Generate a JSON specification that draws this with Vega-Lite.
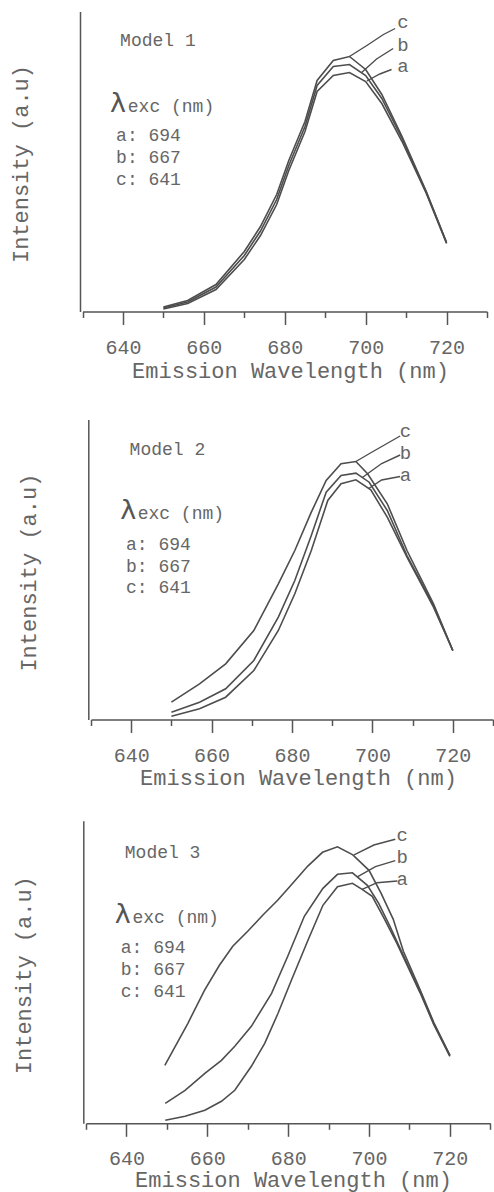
{
  "$schema": "https://vega.github.io/schema/vega-lite/v6.json",
  "background": "white",
  "padding": {"left": 9, "top": 11.5, "right": 0, "bottom": 0},
  "spacing": 32.6,
  "config": {
    "view": {"stroke": null},
    "axis": {"domainColor": "#555", "domainWidth": 1.5, "tickColor": "#555", "tickWidth": 1.5, "labelFont": "Liberation Mono", "labelFontSize": 20, "labelColor": "#666", "titleFont": "Liberation Mono", "titleFontSize": 22, "titleColor": "#666", "titleFontWeight": "normal", "grid": false, "labelFlush": false, "labelOverlap": false, "labelBound": false}
  },
  "datasets": {
    "curves": [
      {"m":1,"s":"a","wl":650,"v":2.5},{"m":1,"s":"a","wl":656,"v":8},{"m":1,"s":"a","wl":663,"v":22},{"m":1,"s":"a","wl":670,"v":52},{"m":1,"s":"a","wl":674,"v":76},{"m":1,"s":"a","wl":678,"v":107},{"m":1,"s":"a","wl":681,"v":141},{"m":1,"s":"a","wl":685,"v":180},{"m":1,"s":"a","wl":688,"v":220},{"m":1,"s":"a","wl":692,"v":236},{"m":1,"s":"a","wl":696,"v":239},{"m":1,"s":"a","wl":700,"v":230},{"m":1,"s":"a","wl":704,"v":208},{"m":1,"s":"a","wl":709,"v":170},{"m":1,"s":"a","wl":715,"v":118},{"m":1,"s":"a","wl":720,"v":68},
      {"m":1,"s":"b","wl":650,"v":3.5},{"m":1,"s":"b","wl":656,"v":9.5},{"m":1,"s":"b","wl":663,"v":24.5},{"m":1,"s":"b","wl":670,"v":56},{"m":1,"s":"b","wl":674,"v":80.5},{"m":1,"s":"b","wl":678,"v":112},{"m":1,"s":"b","wl":681,"v":146},{"m":1,"s":"b","wl":685,"v":185},{"m":1,"s":"b","wl":688,"v":226},{"m":1,"s":"b","wl":692,"v":245},{"m":1,"s":"b","wl":696,"v":247},{"m":1,"s":"b","wl":700,"v":236},{"m":1,"s":"b","wl":704,"v":213},{"m":1,"s":"b","wl":709,"v":173},{"m":1,"s":"b","wl":715,"v":119},{"m":1,"s":"b","wl":720,"v":69},
      {"m":1,"s":"c","wl":650,"v":4.5},{"m":1,"s":"c","wl":656,"v":11},{"m":1,"s":"c","wl":663,"v":27},{"m":1,"s":"c","wl":670,"v":60},{"m":1,"s":"c","wl":674,"v":85},{"m":1,"s":"c","wl":678,"v":117},{"m":1,"s":"c","wl":681,"v":151},{"m":1,"s":"c","wl":685,"v":190},{"m":1,"s":"c","wl":688,"v":231},{"m":1,"s":"c","wl":692,"v":251},{"m":1,"s":"c","wl":696,"v":255},{"m":1,"s":"c","wl":700,"v":242},{"m":1,"s":"c","wl":704,"v":217},{"m":1,"s":"c","wl":709,"v":175},{"m":1,"s":"c","wl":715,"v":120},{"m":1,"s":"c","wl":720,"v":69},
      {"m":2,"s":"a","wl":650,"v":3.3},{"m":2,"s":"a","wl":657,"v":10.7},{"m":2,"s":"a","wl":663.5,"v":22.3},{"m":2,"s":"a","wl":670.5,"v":49},{"m":2,"s":"a","wl":676.6,"v":89},{"m":2,"s":"a","wl":680.7,"v":125.7},{"m":2,"s":"a","wl":684.8,"v":169},{"m":2,"s":"a","wl":688.9,"v":219},{"m":2,"s":"a","wl":692.2,"v":235.7},{"m":2,"s":"a","wl":695.9,"v":239.7},{"m":2,"s":"a","wl":699.6,"v":229.7},{"m":2,"s":"a","wl":703.7,"v":202.3},{"m":2,"s":"a","wl":708.6,"v":162.3},{"m":2,"s":"a","wl":715.2,"v":112.3},{"m":2,"s":"a","wl":720,"v":69},
      {"m":2,"s":"b","wl":650,"v":7.3},{"m":2,"s":"b","wl":657,"v":17.3},{"m":2,"s":"b","wl":663.5,"v":30.7},{"m":2,"s":"b","wl":670.5,"v":59},{"m":2,"s":"b","wl":676.6,"v":102.3},{"m":2,"s":"b","wl":680.7,"v":139},{"m":2,"s":"b","wl":684.8,"v":184},{"m":2,"s":"b","wl":688.5,"v":227.3},{"m":2,"s":"b","wl":692.2,"v":244},{"m":2,"s":"b","wl":695.9,"v":246.3},{"m":2,"s":"b","wl":699.2,"v":237.3},{"m":2,"s":"b","wl":703.7,"v":209},{"m":2,"s":"b","wl":708.6,"v":164},{"m":2,"s":"b","wl":715.2,"v":114},{"m":2,"s":"b","wl":720,"v":69},
      {"m":2,"s":"c","wl":650,"v":17.3},{"m":2,"s":"c","wl":657,"v":35.7},{"m":2,"s":"c","wl":663.5,"v":55.7},{"m":2,"s":"c","wl":670.5,"v":89},{"m":2,"s":"c","wl":676.6,"v":135.7},{"m":2,"s":"c","wl":680.7,"v":169},{"m":2,"s":"c","wl":684.8,"v":207.3},{"m":2,"s":"c","wl":688.5,"v":239},{"m":2,"s":"c","wl":692.2,"v":255.7},{"m":2,"s":"c","wl":695.9,"v":258},{"m":2,"s":"c","wl":698.8,"v":245.7},{"m":2,"s":"c","wl":703.7,"v":215.7},{"m":2,"s":"c","wl":708.6,"v":169},{"m":2,"s":"c","wl":715.2,"v":115.7},{"m":2,"s":"c","wl":720,"v":69},
      {"m":3,"s":"a","wl":649.6,"v":3},{"m":3,"s":"a","wl":654.5,"v":7},{"m":3,"s":"a","wl":659.4,"v":13},{"m":3,"s":"a","wl":663.5,"v":22},{"m":3,"s":"a","wl":666.8,"v":33},{"m":3,"s":"a","wl":670.9,"v":57},{"m":3,"s":"a","wl":674.2,"v":80},{"m":3,"s":"a","wl":677.5,"v":110},{"m":3,"s":"a","wl":680.8,"v":143},{"m":3,"s":"a","wl":684.9,"v":183},{"m":3,"s":"a","wl":688.6,"v":218},{"m":3,"s":"a","wl":692.2,"v":236.5},{"m":3,"s":"a","wl":695.9,"v":240},{"m":3,"s":"a","wl":698.3,"v":234},{"m":3,"s":"a","wl":700.8,"v":227},{"m":3,"s":"a","wl":703.6,"v":206},{"m":3,"s":"a","wl":706.9,"v":180},{"m":3,"s":"a","wl":712.7,"v":130},{"m":3,"s":"a","wl":716,"v":99},{"m":3,"s":"a","wl":720,"v":67},
      {"m":3,"s":"b","wl":649.6,"v":20},{"m":3,"s":"b","wl":654.5,"v":33},{"m":3,"s":"b","wl":659.4,"v":50},{"m":3,"s":"b","wl":663.5,"v":63},{"m":3,"s":"b","wl":666.8,"v":77},{"m":3,"s":"b","wl":670.9,"v":97},{"m":3,"s":"b","wl":675.9,"v":130},{"m":3,"s":"b","wl":679.9,"v":167},{"m":3,"s":"b","wl":684,"v":207},{"m":3,"s":"b","wl":688.6,"v":235},{"m":3,"s":"b","wl":692.2,"v":249},{"m":3,"s":"b","wl":695.9,"v":250.5},{"m":3,"s":"b","wl":699.6,"v":238},{"m":3,"s":"b","wl":702.4,"v":220},{"m":3,"s":"b","wl":705.3,"v":196},{"m":3,"s":"b","wl":707.8,"v":174},{"m":3,"s":"b","wl":712.7,"v":131},{"m":3,"s":"b","wl":716,"v":100},{"m":3,"s":"b","wl":720,"v":68},
      {"m":3,"s":"c","wl":649.5,"v":58},{"m":3,"s":"c","wl":655.2,"v":100},{"m":3,"s":"c","wl":659.3,"v":133},{"m":3,"s":"c","wl":663,"v":158},{"m":3,"s":"c","wl":666.3,"v":177},{"m":3,"s":"c","wl":670,"v":192},{"m":3,"s":"c","wl":673.7,"v":208},{"m":3,"s":"c","wl":677.4,"v":223},{"m":3,"s":"c","wl":680.7,"v":238},{"m":3,"s":"c","wl":684.8,"v":257},{"m":3,"s":"c","wl":688.5,"v":271},{"m":3,"s":"c","wl":692.2,"v":276.5},{"m":3,"s":"c","wl":696,"v":268.5},{"m":3,"s":"c","wl":700,"v":253},{"m":3,"s":"c","wl":703,"v":230},{"m":3,"s":"c","wl":706,"v":204},{"m":3,"s":"c","wl":708.5,"v":172},{"m":3,"s":"c","wl":712.7,"v":133},{"m":3,"s":"c","wl":716,"v":101},{"m":3,"s":"c","wl":720,"v":68}
    ],
    "leaders": [
      {"m":1,"s":"c","wl":696,"v":255},{"m":1,"s":"c","wl":700.3,"v":266},{"m":1,"s":"c","wl":704.4,"v":277},{"m":1,"s":"c","wl":707.3,"v":283},
      {"m":1,"s":"b","wl":699,"v":239},{"m":1,"s":"b","wl":702.7,"v":252.5},{"m":1,"s":"b","wl":706.8,"v":263},
      {"m":1,"s":"a","wl":700.3,"v":230.5},{"m":1,"s":"a","wl":703.5,"v":237.5},{"m":1,"s":"a","wl":706.4,"v":242},
      {"m":2,"s":"c","wl":695.9,"v":258},{"m":2,"s":"c","wl":699.5,"v":266.5},{"m":2,"s":"c","wl":703.2,"v":275},{"m":2,"s":"c","wl":706.9,"v":283.5},
      {"m":2,"s":"b","wl":697.5,"v":242},{"m":2,"s":"b","wl":702.3,"v":256},{"m":2,"s":"b","wl":706.9,"v":264.5},
      {"m":2,"s":"a","wl":699.1,"v":231},{"m":2,"s":"a","wl":702.3,"v":239.5},{"m":2,"s":"a","wl":706.9,"v":243},
      {"m":3,"s":"c","wl":696.3,"v":268.5},{"m":3,"s":"c","wl":701.2,"v":278.3},{"m":3,"s":"c","wl":706.5,"v":284},
      {"m":3,"s":"b","wl":697.1,"v":246.5},{"m":3,"s":"b","wl":701.6,"v":256.6},{"m":3,"s":"b","wl":706.5,"v":262.6},
      {"m":3,"s":"a","wl":698.3,"v":234},{"m":3,"s":"a","wl":702,"v":240.6},{"m":3,"s":"a","wl":707,"v":242.3}
    ],
    "tags": [
      {"m":1,"s":"c","wl":707.8,"v":283.2},{"m":1,"s":"b","wl":707.8,"v":260.8},{"m":1,"s":"a","wl":707.8,"v":239.2},
      {"m":2,"s":"c","wl":706.8,"v":282.3},{"m":2,"s":"b","wl":706.8,"v":260.7},{"m":2,"s":"a","wl":706.8,"v":239},
      {"m":3,"s":"c","wl":706.8,"v":282.6},{"m":3,"s":"b","wl":706.8,"v":260.6},{"m":3,"s":"a","wl":706.8,"v":238.3}
    ],
    "notes": [
      {"m":1,"t":"Model 1","wl":639.3,"v":265.8},{"m":1,"t":"exc (nm)","wl":641.2,"v":199.8},{"m":1,"t":"a: 694","wl":638.3,"v":170.2},{"m":1,"t":"b: 667","wl":638.3,"v":148.5},{"m":1,"t":"c: 641","wl":638.3,"v":126.8},
      {"m":2,"t":"Model 2","wl":639.6,"v":264.7},{"m":2,"t":"exc (nm)","wl":641.6,"v":200.7},{"m":2,"t":"a: 694","wl":638.7,"v":169.7},{"m":2,"t":"b: 667","wl":638.7,"v":148},{"m":2,"t":"c: 641","wl":638.7,"v":126.7},
      {"m":3,"t":"Model 3","wl":639.6,"v":265.6},{"m":3,"t":"exc (nm)","wl":641.5,"v":200.6},{"m":3,"t":"a: 694","wl":638.6,"v":170},{"m":3,"t":"b: 667","wl":638.6,"v":148.3},{"m":3,"t":"c: 641","wl":638.6,"v":126.6}
    ],
    "lambda": [
      {"m":1,"t":"λ","wl":636.8,"v":199.8},
      {"m":2,"t":"λ","wl":637.3,"v":200.7},
      {"m":3,"t":"λ","wl":637.1,"v":200.6}
    ]
  },
  "vconcat": [
    {
      "width": 413, "height": 300,
      "resolve": {"axis": {"x": "independent"}},
      "layer": [
        {
          "data": {"name": "curves"},
          "transform": [{"filter": "datum.m === 1"}],
          "mark": {"type": "line", "stroke": "#4d4d4d", "strokeWidth": 1.6},
          "encoding": {
            "x": {"field": "wl", "type": "quantitative", "scale": {"domain": [630, 730], "range": [2.5, 407], "nice": false, "zero": false},
              "axis": {"orient": "bottom", "values": [640, 660, 680, 700, 720], "tickSize": 13, "labelPadding": 28.5, "labelBaseline": "alphabetic", "title": "Emission Wavelength (nm)", "titleX": 210, "titleY": 65.5, "titleBaseline": "alphabetic", "titleAlign": "center"}},
            "y": {"field": "v", "type": "quantitative", "scale": {"domain": [0, 300], "range": [300, 0], "nice": false, "zero": false},
              "axis": {"orient": "left", "title": "Intensity (a.u)", "ticks": false, "labels": false, "offset": 0, "titleX": -60, "titleY": 152, "titleAngle": -90, "titleBaseline": "middle", "titleAlign": "center"}},
            "detail": {"field": "s", "type": "nominal"}
          }
        },
        {
          "data": {"name": "leaders"},
          "transform": [{"filter": "datum.m === 1"}],
          "mark": {"type": "line", "stroke": "#4d4d4d", "strokeWidth": 1.4},
          "encoding": {
            "x": {"field": "wl", "type": "quantitative", "axis": {"orient": "bottom", "values": [630, 650, 670, 690, 710, 730], "tickSize": 6, "labels": false, "domain": false, "title": null}},
            "y": {"field": "v", "type": "quantitative"},
            "detail": {"field": "s", "type": "nominal"}
          }
        },
        {
          "data": {"name": "tags"},
          "transform": [{"filter": "datum.m === 1"}],
          "mark": {"type": "text", "align": "left", "baseline": "alphabetic", "font": "Liberation Mono", "fontSize": 19, "fill": "#666"},
          "encoding": {
            "x": {"field": "wl", "type": "quantitative", "axis": null},
            "y": {"field": "v", "type": "quantitative"},
            "text": {"field": "s"}
          }
        },
        {
          "data": {"name": "notes"},
          "transform": [{"filter": "datum.m === 1"}],
          "mark": {"type": "text", "align": "left", "baseline": "alphabetic", "font": "Liberation Mono", "fontSize": 18, "fill": "#666"},
          "encoding": {
            "x": {"field": "wl", "type": "quantitative", "axis": null},
            "y": {"field": "v", "type": "quantitative"},
            "text": {"field": "t"}
          }
        },
        {
          "data": {"name": "lambda"},
          "transform": [{"filter": "datum.m === 1"}],
          "mark": {"type": "text", "align": "left", "baseline": "alphabetic", "font": "DejaVu Sans", "fontSize": 27, "fill": "#555"},
          "encoding": {
            "x": {"field": "wl", "type": "quantitative", "axis": null},
            "y": {"field": "v", "type": "quantitative"},
            "text": {"field": "t"}
          }
        }
      ]
    },
    {
      "width": 413, "height": 305.4,
      "resolve": {"axis": {"x": "independent"}},
      "layer": [
        {
          "data": {"name": "curves"},
          "transform": [{"filter": "datum.m === 2"}],
          "mark": {"type": "line", "stroke": "#4d4d4d", "strokeWidth": 1.6},
          "encoding": {
            "x": {"field": "wl", "type": "quantitative", "scale": {"domain": [630, 730], "range": [11, 413], "nice": false, "zero": false},
              "axis": {"orient": "bottom", "values": [640, 660, 680, 700, 720], "tickSize": 13, "labelPadding": 28.5, "labelBaseline": "alphabetic", "title": "Emission Wavelength (nm)", "titleX": 218, "titleY": 64.5, "titleBaseline": "alphabetic", "titleAlign": "center"}},
            "y": {"field": "v", "type": "quantitative", "scale": {"domain": [0, 300], "range": [305.4, 5.4], "nice": false, "zero": false},
              "axis": {"orient": "left", "title": "Intensity (a.u)", "ticks": false, "labels": false, "offset": -8.3, "titleX": -60, "titleY": 158, "titleAngle": -90, "titleBaseline": "middle", "titleAlign": "center"}},
            "detail": {"field": "s", "type": "nominal"}
          }
        },
        {
          "data": {"name": "leaders"},
          "transform": [{"filter": "datum.m === 2"}],
          "mark": {"type": "line", "stroke": "#4d4d4d", "strokeWidth": 1.4},
          "encoding": {
            "x": {"field": "wl", "type": "quantitative", "axis": {"orient": "bottom", "values": [630, 650, 670, 690, 710, 730], "tickSize": 6, "labels": false, "domain": false, "title": null}},
            "y": {"field": "v", "type": "quantitative"},
            "detail": {"field": "s", "type": "nominal"}
          }
        },
        {
          "data": {"name": "tags"},
          "transform": [{"filter": "datum.m === 2"}],
          "mark": {"type": "text", "align": "left", "baseline": "alphabetic", "font": "Liberation Mono", "fontSize": 19, "fill": "#666"},
          "encoding": {
            "x": {"field": "wl", "type": "quantitative", "axis": null},
            "y": {"field": "v", "type": "quantitative"},
            "text": {"field": "s"}
          }
        },
        {
          "data": {"name": "notes"},
          "transform": [{"filter": "datum.m === 2"}],
          "mark": {"type": "text", "align": "left", "baseline": "alphabetic", "font": "Liberation Mono", "fontSize": 18, "fill": "#666"},
          "encoding": {
            "x": {"field": "wl", "type": "quantitative", "axis": null},
            "y": {"field": "v", "type": "quantitative"},
            "text": {"field": "t"}
          }
        },
        {
          "data": {"name": "lambda"},
          "transform": [{"filter": "datum.m === 2"}],
          "mark": {"type": "text", "align": "left", "baseline": "alphabetic", "font": "DejaVu Sans", "fontSize": 27, "fill": "#555"},
          "encoding": {
            "x": {"field": "wl", "type": "quantitative", "axis": null},
            "y": {"field": "v", "type": "quantitative"},
            "text": {"field": "t"}
          }
        }
      ]
    },
    {
      "width": 413, "height": 302.6,
      "resolve": {"axis": {"x": "independent"}},
      "layer": [
        {
          "data": {"name": "curves"},
          "transform": [{"filter": "datum.m === 3"}],
          "mark": {"type": "line", "stroke": "#4d4d4d", "strokeWidth": 1.6},
          "encoding": {
            "x": {"field": "wl", "type": "quantitative", "scale": {"domain": [630, 730], "range": [6, 410.3], "nice": false, "zero": false},
              "axis": {"orient": "bottom", "values": [640, 660, 680, 700, 720], "tickSize": 13, "labelPadding": 28.5, "labelBaseline": "alphabetic", "title": "Emission Wavelength (nm)", "titleX": 213, "titleY": 63.5, "titleBaseline": "alphabetic", "titleAlign": "center"}},
            "y": {"field": "v", "type": "quantitative", "scale": {"domain": [0, 302.6], "range": [302.6, 0], "nice": false, "zero": false},
              "axis": {"orient": "left", "title": "Intensity (a.u)", "ticks": false, "labels": false, "offset": -3.3, "titleX": -60, "titleY": 154, "titleAngle": -90, "titleBaseline": "middle", "titleAlign": "center"}},
            "detail": {"field": "s", "type": "nominal"}
          }
        },
        {
          "data": {"name": "leaders"},
          "transform": [{"filter": "datum.m === 3"}],
          "mark": {"type": "line", "stroke": "#4d4d4d", "strokeWidth": 1.4},
          "encoding": {
            "x": {"field": "wl", "type": "quantitative", "axis": {"orient": "bottom", "values": [630, 650, 670, 690, 710, 730], "tickSize": 6, "labels": false, "domain": false, "title": null}},
            "y": {"field": "v", "type": "quantitative"},
            "detail": {"field": "s", "type": "nominal"}
          }
        },
        {
          "data": {"name": "tags"},
          "transform": [{"filter": "datum.m === 3"}],
          "mark": {"type": "text", "align": "left", "baseline": "alphabetic", "font": "Liberation Mono", "fontSize": 19, "fill": "#666"},
          "encoding": {
            "x": {"field": "wl", "type": "quantitative", "axis": null},
            "y": {"field": "v", "type": "quantitative"},
            "text": {"field": "s"}
          }
        },
        {
          "data": {"name": "notes"},
          "transform": [{"filter": "datum.m === 3"}],
          "mark": {"type": "text", "align": "left", "baseline": "alphabetic", "font": "Liberation Mono", "fontSize": 18, "fill": "#666"},
          "encoding": {
            "x": {"field": "wl", "type": "quantitative", "axis": null},
            "y": {"field": "v", "type": "quantitative"},
            "text": {"field": "t"}
          }
        },
        {
          "data": {"name": "lambda"},
          "transform": [{"filter": "datum.m === 3"}],
          "mark": {"type": "text", "align": "left", "baseline": "alphabetic", "font": "DejaVu Sans", "fontSize": 27, "fill": "#555"},
          "encoding": {
            "x": {"field": "wl", "type": "quantitative", "axis": null},
            "y": {"field": "v", "type": "quantitative"},
            "text": {"field": "t"}
          }
        }
      ]
    }
  ]
}
